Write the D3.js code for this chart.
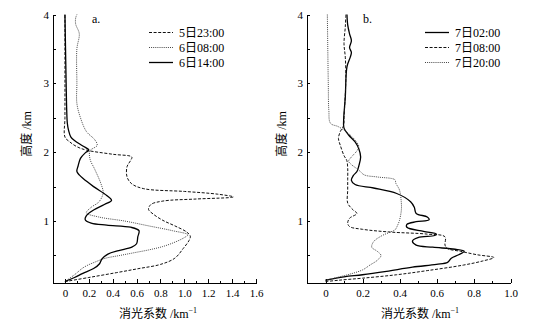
<!DOCTYPE html>
<html lang="zh">
<head>
<meta charset="UTF-8">
<title>消光系数廓线</title>
<script src="https://cdn.jsdelivr.net/npm/d3@7"></script>
<style>
    body { margin: 0; background: #fff; }
    svg text { font-family: "Liberation Serif", "Noto Sans CJK SC", serif; fill: #000; }
    .axis path, .axis line { stroke: #000; stroke-width: 1; shape-rendering: crispEdges; }
    .axis text { font-size: 11px; }
</style>
</head>
<body>
<svg id="chart" width="537" height="329"></svg>
<script>
// extinction profiles, pairs are [extinction km^-1, height km]
var a2300 = [[0,0.12],[0.2,0.18],[0.43,0.25],[0.62,0.31],[0.8,0.37],[0.92,0.46],[0.99,0.6],[1.04,0.72],[1.05,0.78],[1.02,0.84],[0.92,0.93],[0.82,1.01],[0.74,1.1],[0.70,1.17],[0.72,1.24],[0.82,1.29],[1.1,1.32],[1.41,1.35],[1.28,1.39],[1.0,1.43],[0.66,1.47],[0.56,1.54],[0.52,1.64],[0.52,1.79],[0.55,1.88],[0.56,1.93],[0.4,1.97],[0.18,2.03],[0.1,2.08],[0.04,2.15],[0.0,2.22],[0.0,2.5],[0.0,3.0],[0.0,3.5],[0.0,4.0]];
var a0800 = [[0,0.12],[0.08,0.22],[0.16,0.33],[0.26,0.41],[0.34,0.46],[0.46,0.5],[0.58,0.54],[0.7,0.58],[0.82,0.63],[0.93,0.7],[1.0,0.76],[1.03,0.8],[0.9,0.86],[0.7,0.93],[0.5,1.0],[0.28,1.06],[0.18,1.12],[0.22,1.2],[0.28,1.27],[0.31,1.35],[0.32,1.42],[0.3,1.55],[0.25,1.75],[0.21,1.9],[0.21,2.02],[0.27,2.1],[0.25,2.18],[0.18,2.3],[0.13,2.5],[0.1,2.71],[0.1,3.0],[0.1,3.5],[0.12,3.72],[0.09,3.86],[0.09,3.95],[0.1,4.0]];
var a1400 = [[0,0.12],[0.08,0.18],[0.15,0.24],[0.24,0.31],[0.29,0.38],[0.31,0.45],[0.36,0.52],[0.45,0.57],[0.56,0.62],[0.6,0.67],[0.61,0.77],[0.62,0.86],[0.55,0.91],[0.35,0.94],[0.22,0.97],[0.17,1.02],[0.18,1.08],[0.24,1.16],[0.33,1.24],[0.39,1.3],[0.35,1.37],[0.24,1.5],[0.15,1.62],[0.12,1.67],[0.1,1.72],[0.11,1.8],[0.13,1.91],[0.17,1.99],[0.2,2.03],[0.15,2.09],[0.08,2.17],[0.05,2.22],[0.03,2.32],[0.02,2.42],[0.015,2.6],[0.01,3.0],[0.005,3.5],[0.0,4.0]];

var b0200 = [[0,0.14],[0.1,0.19],[0.2,0.22],[0.33,0.27],[0.47,0.33],[0.6,0.37],[0.66,0.4],[0.68,0.46],[0.72,0.51],[0.75,0.56],[0.7,0.59],[0.58,0.62],[0.49,0.65],[0.47,0.71],[0.5,0.76],[0.59,0.79],[0.6,0.81],[0.53,0.85],[0.44,0.91],[0.44,0.95],[0.49,0.99],[0.56,1.02],[0.55,1.06],[0.49,1.11],[0.48,1.2],[0.46,1.28],[0.385,1.4],[0.26,1.48],[0.16,1.53],[0.14,1.59],[0.15,1.66],[0.17,1.72],[0.18,1.8],[0.19,1.93],[0.18,2.05],[0.16,2.15],[0.125,2.25],[0.1,2.35],[0.098,2.46],[0.107,2.8],[0.116,3.24],[0.134,3.38],[0.14,3.45],[0.13,3.52],[0.14,3.62],[0.13,3.72],[0.12,3.85],[0.116,4.0]];
var b0800 = [[0,0.12],[0.07,0.14],[0.2,0.17],[0.385,0.22],[0.55,0.28],[0.745,0.36],[0.85,0.42],[0.91,0.47],[0.82,0.51],[0.73,0.56],[0.66,0.6],[0.646,0.65],[0.646,0.77],[0.55,0.81],[0.35,0.84],[0.2,0.88],[0.13,0.92],[0.12,0.97],[0.13,1.04],[0.17,1.11],[0.15,1.16],[0.12,1.26],[0.12,1.45],[0.12,1.6],[0.12,1.77],[0.115,1.88],[0.1,1.95],[0.08,2.1],[0.07,2.2],[0.08,2.3],[0.098,2.39],[0.1,2.5],[0.107,2.84],[0.11,3.08],[0.107,3.38],[0.1,3.58],[0.107,3.82],[0.11,4.0]];
var b2000 = [[0,0.14],[0.06,0.18],[0.12,0.22],[0.2,0.29],[0.24,0.36],[0.28,0.43],[0.3,0.5],[0.28,0.56],[0.25,0.62],[0.26,0.7],[0.3,0.78],[0.35,0.84],[0.375,0.87],[0.39,0.94],[0.4,1.01],[0.41,1.16],[0.41,1.26],[0.4,1.45],[0.38,1.55],[0.375,1.6],[0.28,1.64],[0.21,1.67],[0.18,1.74],[0.14,1.82],[0.125,1.87],[0.14,1.93],[0.17,2.02],[0.18,2.08],[0.17,2.14],[0.125,2.27],[0.07,2.37],[0.027,2.42],[0.018,2.61],[0.015,3.0],[0.012,3.58],[0.01,4.0]];

var namesA = ["5日23:00", "6日08:00", "6日14:00"];
var namesB = ["7日02:00", "7日08:00", "7日20:00"];
var xTicksA = [0, 0.2, 0.4, 0.6, 0.8, 1.0, 1.2, 1.4, 1.6];
var xTicksB = [0, 0.2, 0.4, 0.6, 0.8, 1.0];
var yTicks = [1, 2, 3, 4];

var styles = {
    solid:  { dash: null,    width: 1.3, color: "#000" },
    dashed: { dash: "3,1.6", width: 1,   color: "#111" },
    dotted: { dash: "1,1.1", width: 1,   color: "#444" }
};

var svg = d3.select("#chart");

function panel(opt) {
    var x = d3.scaleLinear().domain(opt.xDomain).range(opt.xRange);
    var y = d3.scaleLinear().domain([0.1, 4]).range([283, 14.5]);
    var g = svg.append("g");

    // minor ticks every 0.1 on x, every 0.5 on y
    var xMinor = d3.range(1, Math.round(opt.xDomain[1] * 10) + 1).map(d => d / 10)
        .filter(d => Math.round(d * 10) % 2 === 1);
    var yMinor = [0.5, 1.5, 2.5, 3.5];

    g.append("g").attr("class", "axis")
        .attr("transform", "translate(0,283)")
        .call(d3.axisBottom(x).tickValues(xMinor).tickSizeInner(-2.5).tickSizeOuter(0).tickFormat(""));
    g.append("g").attr("class", "axis")
        .attr("transform", "translate(0,283)")
        .call(d3.axisBottom(x).tickValues(opt.xTicks).tickSizeInner(-4).tickSizeOuter(0).tickPadding(6)
            .tickFormat(d => d === 0 ? "0" : d3.format(".1f")(d)));

    g.append("g").attr("class", "axis")
        .attr("transform", "translate(" + x(opt.xDomain[0]) + ",0)")
        .call(d3.axisLeft(y).tickValues(yMinor).tickSizeInner(-2.5).tickSizeOuter(0).tickFormat(""));
    g.append("g").attr("class", "axis")
        .attr("transform", "translate(" + x(opt.xDomain[0]) + ",0)")
        .call(d3.axisLeft(y).tickValues(yTicks).tickSizeInner(-3).tickSizeOuter(0).tickPadding(4)
            .tickFormat(d3.format("d")));

    var line = d3.line()
        .x(d => x(d[0]))
        .y(d => y(d[1]))
        .curve(d3.curveCatmullRom.alpha(0.5));

    opt.series.forEach(function(s) {
        var st = styles[s.style];
        g.append("path")
            .datum(s.data)
            .attr("fill", "none")
            .attr("stroke", st.color)
            .attr("stroke-width", st.width)
            .attr("stroke-dasharray", st.dash)
            .attr("d", line);
    });

    // legend
    var leg = g.append("g").selectAll("g")
        .data(opt.series)
        .enter().append("g")
        .attr("transform", (d, i) => "translate(" + opt.legendX + "," + (32.5 + i * 15) + ")");
    leg.append("line")
        .attr("x1", 0).attr("x2", 24)
        .attr("stroke", d => styles[d.style].color)
        .attr("stroke-width", d => styles[d.style].width)
        .attr("stroke-dasharray", d => styles[d.style].dash);
    leg.append("text")
        .attr("x", 30).attr("y", 4)
        .style("font-size", "12px")
        .text(d => d.name);

    g.append("text")
        .attr("x", opt.tagX).attr("y", 23)
        .style("font-size", "12px")
        .text(opt.tag);

    // axis titles
    var xt = g.append("text")
        .attr("x", opt.titleX).attr("y", 318)
        .attr("text-anchor", "middle")
        .style("font-size", "12px")
        .text("消光系数 /km");
    xt.append("tspan").attr("dy", -5).style("font-size", "8px").text("−1");

    g.append("text")
        .attr("transform", "translate(" + opt.yTitleX + ",134) rotate(-90)")
        .attr("text-anchor", "middle")
        .style("font-size", "12px")
        .text("高度 /km");
}

panel({
    xDomain: [-0.1, 1.6], xRange: [53, 256], xTicks: xTicksA,
    series: [
        { name: namesA[0], style: "dashed", data: a2300 },
        { name: namesA[1], style: "dotted", data: a0800 },
        { name: namesA[2], style: "solid",  data: a1400 }
    ],
    legendX: 149, tag: "a.", tagX: 92, titleX: 158, yTitleX: 31
});

panel({
    xDomain: [-0.1, 1.0], xRange: [307, 510.5], xTicks: xTicksB,
    series: [
        { name: namesB[0], style: "solid",  data: b0200 },
        { name: namesB[1], style: "dashed", data: b0800 },
        { name: namesB[2], style: "dotted", data: b2000 }
    ],
    legendX: 425, tag: "b.", tagX: 363, titleX: 420, yTitleX: 286
});
</script>
</body>
</html>
